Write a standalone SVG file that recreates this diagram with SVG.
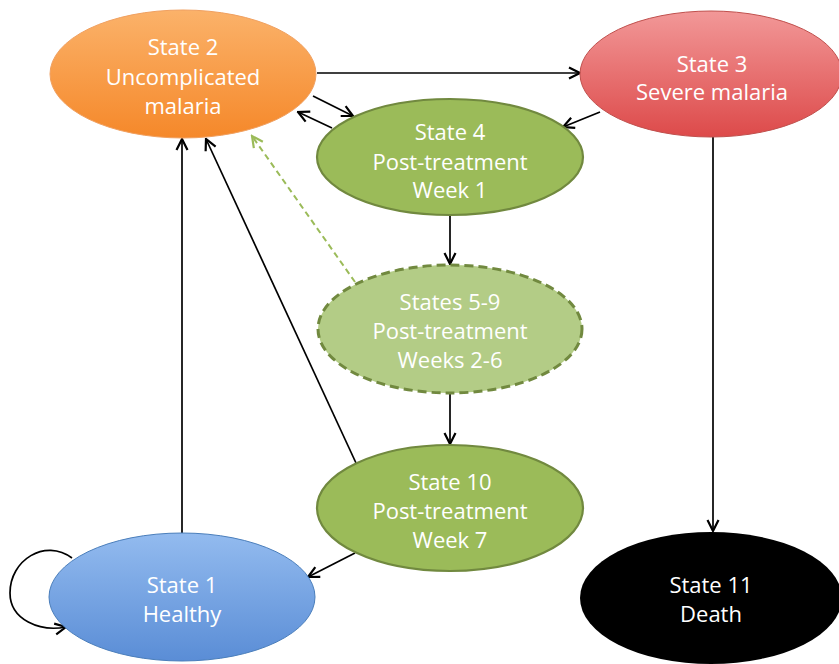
<svg xmlns="http://www.w3.org/2000/svg" width="839" height="664" viewBox="0 0 839 664">
<defs>
<linearGradient id="gOrange" x1="0" y1="0" x2="0" y2="1"><stop offset="0" stop-color="#fbb26a"/><stop offset="1" stop-color="#f5882a"/></linearGradient>
<linearGradient id="gRed" x1="0" y1="0" x2="0" y2="1"><stop offset="0" stop-color="#f29898"/><stop offset="1" stop-color="#dd4a4a"/></linearGradient>
<linearGradient id="gBlue" x1="0" y1="0" x2="0" y2="1"><stop offset="0" stop-color="#93bbef"/><stop offset="1" stop-color="#5a8dd6"/></linearGradient>
<marker id="arr" viewBox="0 0 14 14" refX="12.5" refY="7" markerWidth="14" markerHeight="14" orient="auto" markerUnits="userSpaceOnUse">
<path d="M1.5,1.5 L12.5,7 L1.5,12.5" fill="none" stroke="#000" stroke-width="2.2"/>
</marker>
<marker id="arrG" viewBox="0 0 14 14" refX="12.5" refY="7" markerWidth="14" markerHeight="14" orient="auto" markerUnits="userSpaceOnUse">
<path d="M1.5,1.5 L12.5,7 L1.5,12.5" fill="none" stroke="#9bbb59" stroke-width="2.2"/>
</marker>
</defs>
<style>
.lbl{font-family:"Open Sans","Noto Sans",sans-serif;font-size:22px;fill:#fff;text-anchor:middle}
.edge{fill:none;stroke:#000;stroke-width:1.7;marker-end:url(#arr)}
.green{fill:#9bbb59;stroke:#71893f;stroke-width:2.2}
</style>
<rect width="839" height="664" fill="#fff"/>
<g id="connectors">
<line class="edge" x1="317" y1="73" x2="580" y2="73"/>
<line class="edge" x1="313" y1="96" x2="353" y2="116"/>
<line class="edge" x1="332" y1="128" x2="298" y2="112"/>
<line class="edge" x1="600" y1="112" x2="563" y2="127"/>
<line class="edge" x1="713" y1="137" x2="713" y2="531"/>
<line class="edge" x1="450" y1="215" x2="450" y2="264"/>
<line class="edge" x1="450" y1="393" x2="450" y2="444"/>
<line class="edge" x1="355" y1="553" x2="308" y2="577"/>
<line class="edge" x1="182" y1="533" x2="182" y2="139"/>
<line class="edge" x1="356" y1="463" x2="206" y2="139"/>
<line x1="355" y1="282" x2="252" y2="136" fill="none" stroke="#9bbb59" stroke-width="2" stroke-dasharray="6,4" marker-end="url(#arrG)"/>
<path class="edge" d="M72,558 C45,538 10,560 10,593 C10,620 40,632 66,627"/>
</g>
<g id="state2">
<ellipse cx="183" cy="74" rx="133" ry="64" fill="url(#gOrange)" stroke="#f0a060" stroke-width="1"/>
<text class="lbl" x="183" y="55">State 2</text>
<text class="lbl" x="183" y="85">Uncomplicated</text>
<text class="lbl" x="183" y="114">malaria</text>
</g>
<g id="state3">
<ellipse cx="711" cy="74" rx="131" ry="63" fill="url(#gRed)" stroke="#c0504d" stroke-width="1"/>
<text class="lbl" x="712" y="72">State 3</text>
<text class="lbl" x="712" y="100">Severe malaria</text>
</g>
<g id="state4">
<ellipse class="green" cx="450" cy="157" rx="133" ry="58"/>
<text class="lbl" x="450" y="140">State 4</text>
<text class="lbl" x="450" y="170">Post-treatment</text>
<text class="lbl" x="450" y="198">Week 1</text>
</g>
<g id="states5-9">
<ellipse cx="450" cy="329" rx="132" ry="64" fill="#b3cc86" stroke="#71893f" stroke-width="3" stroke-dasharray="9,5"/>
<text class="lbl" x="450" y="310">States 5-9</text>
<text class="lbl" x="450" y="339">Post-treatment</text>
<text class="lbl" x="450" y="368">Weeks 2-6</text>
</g>
<g id="state10">
<ellipse class="green" cx="450" cy="508" rx="133" ry="63"/>
<text class="lbl" x="450" y="490">State 10</text>
<text class="lbl" x="450" y="519">Post-treatment</text>
<text class="lbl" x="450" y="548">Week 7</text>
</g>
<g id="state1">
<ellipse cx="182" cy="597" rx="133" ry="64" fill="url(#gBlue)" stroke="#4a7ebb" stroke-width="1"/>
<text class="lbl" x="182" y="593">State 1</text>
<text class="lbl" x="182" y="622">Healthy</text>
</g>
<g id="state11">
<ellipse cx="711" cy="598" rx="131" ry="66" fill="#000"/>
<text class="lbl" x="711" y="593">State 11</text>
<text class="lbl" x="711" y="622">Death</text>
</g>
</svg>
